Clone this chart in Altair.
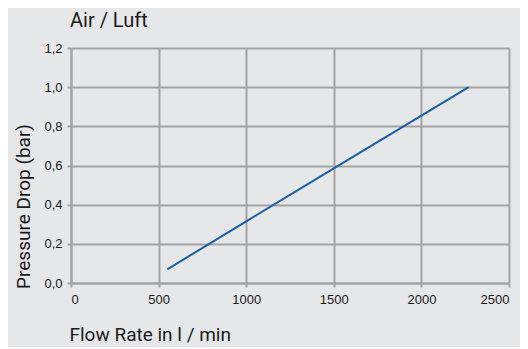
import altair as alt
import pandas as pd

flow = [550, 1000, 1500, 2000, 2270]
pressure = [0.07, 0.315, 0.585, 0.855, 1.0]

df = pd.DataFrame({"flow": flow, "pressure": pressure})

FONT = "Liberation Sans"
TFONT = "Roboto"
GRID = "#a3a3a3"

chart = alt.Chart(df).mark_line(color="#1c5ea8", strokeWidth=2).encode(
    x=alt.X("flow:Q", scale=alt.Scale(domain=[0, 2500], nice=False),
            axis=alt.Axis(values=[0, 500, 1000, 1500, 2000, 2500], format="d",
                          title="Flow Rate in l / min",
                          titleAnchor="start", titleAlign="left", titleX=-2, titleY=57,
                          titleBaseline="alphabetic", titleFontSize=19,
                          labelFontSize=13, labelPadding=6)),
    y=alt.Y("pressure:Q", scale=alt.Scale(domain=[0, 1.2], nice=False),
            axis=alt.Axis(values=[0, 0.2, 0.4, 0.6, 0.8, 1.0, 1.2],
                          format=".1f", labelExpr="replace(datum.label, '.', ',')",
                          title="Pressure Drop (bar)",
                          titleX=-38, titleY=158, titleAngle=-90, titleAlign="center",
                          titleBaseline="bottom", titleFontSize=19,
                          labelFontSize=13, labelPadding=5)),
).properties(
    width=438, height=235,
    autosize="none",
    padding={"left": 63, "top": 40, "right": 11, "bottom": 64},
    background="#e6e7e8",
    title=alt.TitleParams("Air / Luft", anchor="start", frame="group", fontSize=20,
                          font=TFONT, fontWeight="normal", color="#1a1a1a", offset=11, dx=-1),
).configure_view(
    stroke=None, fill="#e6e7e8"
).configure_axis(
    gridColor=GRID, gridWidth=2, gridOpacity=1,
    domainColor=GRID, domainWidth=2,
    tickColor=GRID, tickWidth=2, tickSize=4,
    labelFont=FONT, titleFont=TFONT, labelColor="#1a1a1a", titleColor="#1a1a1a",
    titleFontWeight="normal",
)

chart.save("out.html", embed_options={"renderer": "svg", "actions": False})
